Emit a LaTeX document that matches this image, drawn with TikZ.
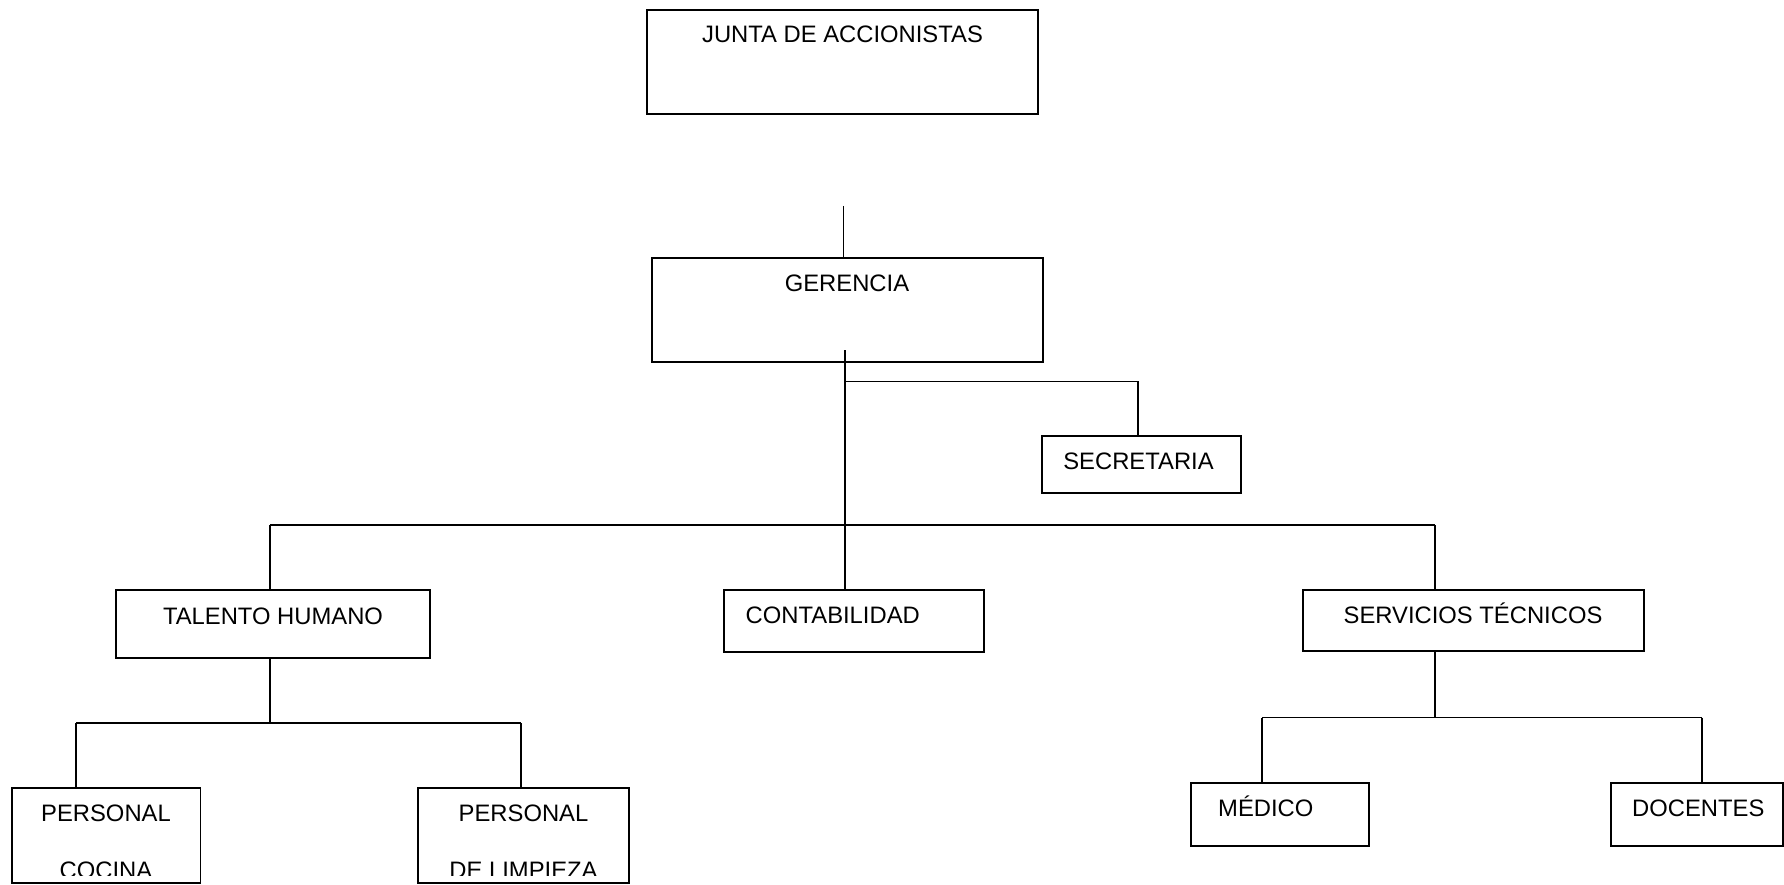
\documentclass[tikz,border=0pt]{standalone}
\usepackage{fontspec}
\setmainfont{Liberation Sans}
\begin{document}
\begin{tikzpicture}[x=1pt,y=-1pt,
  box/.style={draw=black,line width=1.5pt,inner sep=0pt,outer sep=0pt,fill=none},
  lbl/.style={inner sep=0pt,font=\fontsize{23.8}{28}\selectfont},
  conn/.style={draw=black,line width=1.5pt}]
\useasboundingbox (0,0) rectangle (1784,885);
% boxes
\node[box,minimum width=391pt,minimum height=104pt] (junta) at (842.5,62) {};
\node[box,minimum width=391pt,minimum height=104pt] (gerencia) at (847.5,310) {};
\node[box,minimum width=199pt,minimum height=57pt] (secretaria) at (1141.5,464.5) {};
\node[box,minimum width=314pt,minimum height=68pt] (talento) at (273,624) {};
\node[box,minimum width=260pt,minimum height=62pt] (contab) at (854,621) {};
\node[box,minimum width=341pt,minimum height=61pt] (servicios) at (1473.5,620.5) {};
\node[box,minimum width=188.5pt,minimum height=95pt] (pcocina) at (106,835.5) {};
\node[box,minimum width=211pt,minimum height=95pt] (plimpieza) at (523.5,835.5) {};
\node[box,minimum width=178pt,minimum height=63pt] (medico) at (1280,814.5) {};
\node[box,minimum width=172pt,minimum height=63pt] (docentes) at (1697,814.5) {};
% texts
\node[lbl,anchor=base] (juntaT) at (842.5,43) {JUNTA DE ACCIONISTAS};
\node[lbl,anchor=base] (gerT) at (847,291.5) {GERENCIA};
\node[lbl,anchor=base] (secT) at (1138.5,469) {SECRETARIA};
\node[lbl,anchor=base] (talT) at (273,624) {TALENTO HUMANO};
\node[lbl,anchor=base west] (conT) at (745.5,623.3) {CONTABILIDAD};
\node[lbl,anchor=base] (serT) at (1473,623.3) {SERVICIOS TÉCNICOS};
\node[lbl,anchor=base west] (medT) at (1218,816.7) {MÉDICO};
\node[lbl,anchor=base west] (docT) at (1632,816.7) {DOCENTES};
\node[lbl,anchor=base] (pcT1) at (106,821) {PERSONAL};
\node[lbl,anchor=base] (plT1) at (523.5,821) {PERSONAL};
\begin{scope}
\clip (0,780) rectangle (1784,875);
\node[lbl,anchor=base] (pcT2) at (106,878.5) {COCINA};
\node[lbl,anchor=base] (plT2) at (523.5,878.5) {DE LIMPIEZA};
\end{scope}
% free coordinates
\coordinate (gtop) at (843.7,206);
\coordinate (gin) at (845,350);
\coordinate (sbr) at (845,381.7);
\coordinate (secx) at (1138,436);
\coordinate (tv) at (270,525);
\coordinate (sv) at (1435,525);
\coordinate (tb) at (270,723);
\coordinate (pc) at (76,723);
\coordinate (pl) at (521,723);
\coordinate (sb) at (1435,717.5);
\coordinate (mc) at (1262,717.5);
\coordinate (dc) at (1702,717.5);
% connectors
\draw[conn] (gtop) -- (gtop |- gerencia.north);
\draw[conn] (gin) -- (gin |- contab.north);
\draw[conn] (sbr) -| (secx |- secretaria.north);
\draw[conn] (tv) -- (sv);
\draw[conn] (tv) -- (tv |- talento.north);
\draw[conn] (sv) -- (sv |- servicios.north);
\draw[conn] (tb |- talento.south) -- (tb);
\draw[conn] (pc) -- (pl);
\draw[conn] (pc) -- (pc |- pcocina.north);
\draw[conn] (pl) -- (pl |- plimpieza.north);
\draw[conn] (sb |- servicios.south) -- (sb);
\draw[conn] (mc) -- (dc);
\draw[conn] (mc) -- (mc |- medico.north);
\draw[conn] (dc) -- (dc |- docentes.north);
\end{tikzpicture}
\end{document}
